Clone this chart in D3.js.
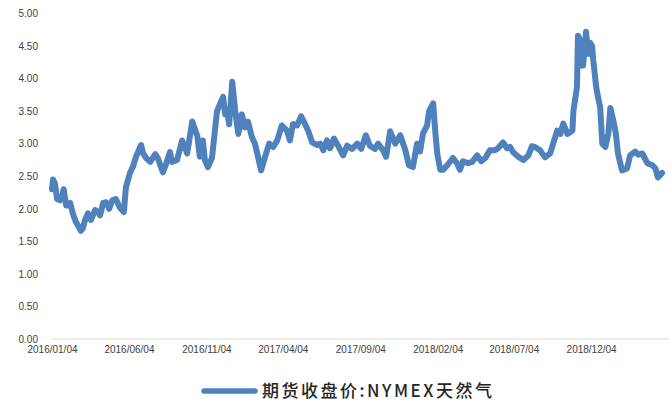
<!DOCTYPE html>
<html>
<head>
<meta charset="utf-8">
<script src="https://cdn.jsdelivr.net/npm/d3@7"></script>
<style>
  body { margin: 0; background: #fff; }
  svg { display: block; font-family: "Liberation Sans", "Noto Sans CJK SC", sans-serif; }
</style>
</head>
<body>
<svg id="chart" width="669" height="401"></svg>
<script>
// NYMEX natural gas, closing price of futures
const dates = [
  "2016-01-04","2016-01-06","2016-01-10","2016-01-14","2016-01-20","2016-01-24","2016-01-27","2016-02-01",
  "2016-02-05","2016-02-09","2016-02-14","2016-02-20","2016-02-24","2016-03-01","2016-03-05","2016-03-09",
  "2016-03-15","2016-03-21","2016-03-29","2016-04-04","2016-04-08","2016-04-14","2016-04-20","2016-04-26",
  "2016-05-02","2016-05-09","2016-05-17","2016-05-25","2016-05-29","2016-06-06","2016-06-12","2016-06-18",
  "2016-06-28","2016-07-02","2016-07-08","2016-07-16","2016-07-26","2016-07-31","2016-08-10","2016-08-16",
  "2016-08-24","2016-08-28","2016-09-07","2016-09-17","2016-09-27","2016-10-07","2016-10-17","2016-10-22",
  "2016-10-28","2016-11-01","2016-11-07","2016-11-15","2016-11-25","2016-12-07","2016-12-11","2016-12-15",
  "2016-12-19","2016-12-25","2016-12-31","2017-01-06","2017-01-13","2017-01-19","2017-01-25","2017-02-02",
  "2017-02-08","2017-02-14","2017-02-20","2017-02-28","2017-03-08","2017-03-16","2017-03-24","2017-04-02",
  "2017-04-12","2017-04-18","2017-04-24","2017-05-02","2017-05-10","2017-05-18","2017-05-24","2017-06-01",
  "2017-06-11","2017-06-17","2017-06-23","2017-06-30","2017-07-06","2017-07-14","2017-07-22","2017-08-01",
  "2017-08-09","2017-08-19","2017-08-29","2017-09-06","2017-09-15","2017-09-23","2017-10-03","2017-10-09",
  "2017-10-19","2017-10-25","2017-11-02","2017-11-12","2017-11-22","2017-12-02","2017-12-09","2017-12-17",
  "2017-12-25","2017-12-31","2018-01-06","2018-01-14","2018-01-18","2018-01-26","2018-01-30","2018-02-03",
  "2018-02-09","2018-02-15","2018-02-24","2018-03-06","2018-03-14","2018-03-20","2018-03-26","2018-04-05",
  "2018-04-13","2018-04-23","2018-05-01","2018-05-09","2018-05-18","2018-05-28","2018-06-03","2018-06-13",
  "2018-06-21","2018-06-27","2018-07-03","2018-07-13","2018-07-23","2018-08-02","2018-08-09","2018-08-15",
  "2018-08-25","2018-09-04","2018-09-14","2018-09-20","2018-09-28","2018-10-04","2018-10-10","2018-10-18",
  "2018-10-28","2018-10-30","2018-11-06","2018-11-08","2018-11-12","2018-11-14","2018-11-18","2018-11-24",
  "2018-11-28","2018-12-02","2018-12-06","2018-12-08","2018-12-14","2018-12-18","2018-12-22","2018-12-26",
  "2019-01-01","2019-01-07","2019-01-11","2019-01-17","2019-01-22","2019-01-26","2019-02-03","2019-02-13",
  "2019-02-19","2019-03-01","2019-03-07","2019-03-15","2019-03-25","2019-04-04","2019-04-10","2019-04-15",
  "2019-04-23"
];

const prices = [
  2.30, 2.45, 2.38, 2.15, 2.13, 2.20, 2.30, 2.05,
  2.05, 2.09, 1.93, 1.80, 1.75, 1.66, 1.70, 1.82,
  1.93, 1.83, 1.98, 1.95, 1.90, 2.09, 2.10, 2.00,
  2.13, 2.15, 2.02, 1.95, 2.33, 2.55, 2.65, 2.80,
  2.98, 2.85, 2.78, 2.72, 2.84, 2.78, 2.56, 2.68,
  2.87, 2.72, 2.75, 3.05, 2.85, 3.34, 3.12, 2.80,
  3.05, 2.75, 2.64, 2.78, 3.50, 3.72, 3.45, 3.50,
  3.30, 3.95, 3.50, 3.15, 3.45, 3.25, 3.34, 3.10,
  3.00, 2.80, 2.59, 2.80, 3.00, 2.95, 3.05, 3.28,
  3.20, 3.05, 3.30, 3.28, 3.42, 3.30, 3.20, 3.02,
  2.98, 3.00, 2.90, 3.05, 2.93, 3.08, 2.97, 2.82,
  2.97, 2.92, 3.00, 2.92, 3.13, 2.97, 2.92, 3.00,
  2.90, 2.80, 3.19, 3.00, 3.13, 2.90, 2.67, 2.64,
  3.00, 2.88, 3.16, 3.28, 3.50, 3.62, 3.20, 2.85,
  2.60, 2.60, 2.68, 2.78, 2.70, 2.60, 2.73, 2.70,
  2.72, 2.82, 2.73, 2.78, 2.90, 2.90, 2.93, 3.02,
  2.93, 2.95, 2.87, 2.80, 2.75, 2.82, 2.96, 2.95,
  2.90, 2.79, 2.85, 3.00, 3.20, 3.15, 3.31, 3.15,
  3.20, 3.50, 3.87, 4.66, 4.60, 4.20, 4.20, 4.72,
  4.38, 4.55, 4.50, 4.30, 3.87, 3.70, 3.55, 3.00,
  2.95, 3.15, 3.55, 3.35, 3.15, 2.85, 2.59, 2.62,
  2.82, 2.88, 2.83, 2.85, 2.70, 2.67, 2.62, 2.48,
  2.55
];

const yTicks = [0, 0.5, 1, 1.5, 2, 2.5, 3, 3.5, 4, 4.5, 5];
const xTickLabels = ["2016/01/04","2016/06/04","2016/11/04","2017/04/04","2017/09/04","2018/02/04","2018/07/04","2018/12/04"];
const seriesName = "期货收盘价:NYMEX天然气";

const parseDay = d3.timeParse("%Y-%m-%d");
const parseTick = d3.timeParse("%Y/%m/%d");
const data = dates.map((d, i) => ({ date: parseDay(d), value: prices[i] }));

const svg = d3.select("#chart");
const lineColor = "#4f81bd";

const x = d3.scaleTime()
  .domain([data[0].date, data[data.length - 1].date])
  .range([52, 662]);

const y = d3.scaleLinear()
  .domain([0, 5])
  .range([339, 13.5]);

// y labels, no axis line or grid
svg.append("g")
  .attr("transform", "translate(38,0)")
  .call(d3.axisLeft(y).tickValues(yTicks).tickSize(0).tickPadding(0).tickFormat(d3.format(".2f")))
  .call(g => g.select(".domain").remove())
  .call(g => g.selectAll("text")
    .attr("fill", "#404040")
    .style("font-size", "10px"));

// x axis baseline runs to the right edge
svg.append("line")
  .attr("x1", 52).attr("x2", 669)
  .attr("y1", 339).attr("y2", 339)
  .attr("stroke", "#d9d9d9")
  .attr("stroke-width", 1);

svg.append("g")
  .attr("transform", "translate(0,339)")
  .call(d3.axisBottom(x)
    .tickValues(xTickLabels.map(parseTick))
    .tickSize(0)
    .tickPadding(7)
    .tickFormat(d3.timeFormat("%Y/%m/%d")))
  .call(g => g.select(".domain").remove())
  .call(g => g.selectAll("text")
    .attr("fill", "#404040")
    .style("font-size", "10px"));

const line = d3.line()
  .x(d => x(d.date))
  .y(d => y(d.value));

svg.append("path")
  .datum(data)
  .attr("fill", "none")
  .attr("stroke", lineColor)
  .attr("stroke-width", 6)
  .attr("stroke-linejoin", "round")
  .attr("stroke-linecap", "round")
  .attr("d", line);

// legend
const legend = svg.append("g").attr("transform", "translate(0,391)");
legend.append("line")
  .attr("x1", 204).attr("x2", 255)
  .attr("stroke", lineColor)
  .attr("stroke-width", 5.5)
  .attr("stroke-linecap", "round");
legend.append("text")
  .attr("x", 262)
  .attr("dy", "0.35em")
  .attr("fill", "#262626")
  .style("font-family", "'Noto Sans CJK SC', sans-serif")
  .style("font-size", "17px")
  .style("font-weight", "500")
  .style("letter-spacing", "2.5px")
  .text(seriesName);
</script>
</body>
</html>
